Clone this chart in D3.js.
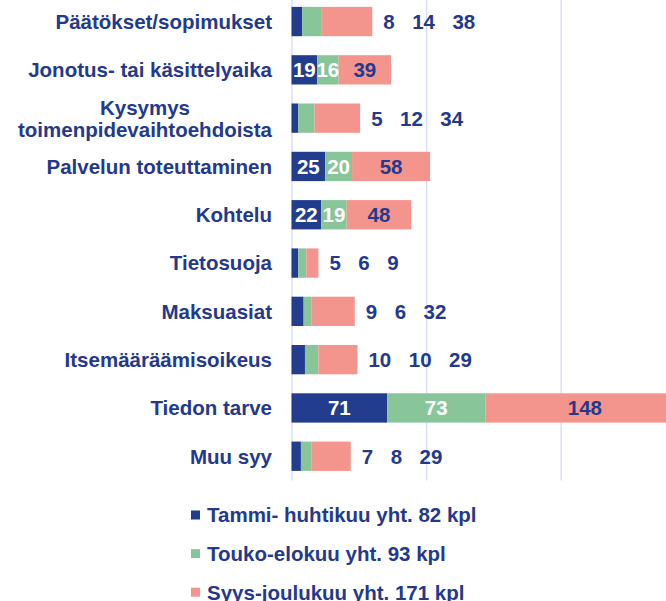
<!DOCTYPE html>
<html>
<head>
<meta charset="utf-8">
<script src="https://cdn.jsdelivr.net/npm/d3@7"></script>
<style>
  body { margin: 0; background: #fff; }
  svg { display: block; font-family: "Liberation Sans", Arial, sans-serif; font-weight: bold; }
</style>
</head>
<body>
<div class="chart"></div>
<script>
const categories = [
  ['Päätökset/sopimukset'],
  ['Jonotus- tai käsittelyaika'],
  ['Kysymys', 'toimenpidevaihtoehdoista'],
  ['Palvelun toteuttaminen'],
  ['Kohtelu'],
  ['Tietosuoja'],
  ['Maksuasiat'],
  ['Itsemääräämisoikeus'],
  ['Tiedon tarve'],
  ['Muu syy']
];
const tammiHuhti = [8, 19, 5, 25, 22, 5, 9, 10, 71, 7];
const toukoElo = [14, 16, 12, 20, 19, 6, 6, 10, 73, 8];
const syysJoulu = [38, 39, 34, 58, 48, 9, 32, 29, 148, 29];
const seriesNames = ['Tammi- huhtikuu yht. 82 kpl', 'Touko-elokuu yht. 93 kpl', 'Syys-joulukuu yht. 171 kpl'];
const gridTicks = [0, 100, 200, 300];

const WIDTH = 666;
const HEIGHT = 601;
const COLORS = ['#233d8e', '#88c69a', '#f4958d'];
const LABEL_COLORS = ['#fff', '#fff', '#24398c'];
const TEXT = '#24398c';
const FONT = '20.5px';

const rows = categories.map((lines, i) => ({
  key: lines.join(' '),
  lines,
  s0: tammiHuhti[i],
  s1: toukoElo[i],
  s2: syysJoulu[i]
}));

const x = d3.scaleLinear().domain([0, 300]).range([291.5, 695.3]);
const y = d3.scaleBand()
  .domain(rows.map(d => d.key))
  .range([-2.6, 480.4])
  .paddingInner(0.393)
  .paddingOuter(0.1965);

const svg = d3.select('.chart')
  .append('svg')
  .attr('width', WIDTH)
  .attr('height', HEIGHT);

// vertical gridlines
svg.append('g')
  .attr('transform', `translate(0,${y.range()[1]})`)
  .call(d3.axisBottom(x).tickValues(gridTicks).tickSize(-(y.range()[1] + 10)).tickFormat(''))
  .call(g => g.select('.domain').remove())
  .call(g => g.selectAll('line').attr('stroke', '#d8ddf5').attr('stroke-width', 1.4));

const stacked = d3.stack().keys(['s0', 's1', 's2'])(rows);

// bars
svg.append('g')
  .selectAll('g')
  .data(stacked)
  .join('g')
  .attr('fill', (d, i) => COLORS[i])
  .selectAll('rect')
  .data(d => d)
  .join('rect')
  .attr('x', d => x(d[0]))
  .attr('y', d => y(d.data.key))
  .attr('width', d => x(d[1]) - x(d[0]))
  .attr('height', y.bandwidth());

// category labels
const cat = svg.append('g')
  .attr('fill', TEXT)
  .attr('font-size', FONT);
rows.forEach(d => {
  const cy = y(d.key) + y.bandwidth() / 2;
  if (d.lines.length === 1) {
    cat.append('text')
      .attr('x', 272)
      .attr('y', cy)
      .attr('dy', '0.36em')
      .attr('text-anchor', 'end')
      .text(d.lines[0]);
  } else {
    const last = cat.append('text')
      .attr('x', 272)
      .attr('y', cy + 11)
      .attr('dy', '0.36em')
      .attr('text-anchor', 'end')
      .text(d.lines[1]);
    const w = last.node().getComputedTextLength();
    cat.append('text')
      .attr('x', 272 - w / 2)
      .attr('y', cy - 11)
      .attr('dy', '0.36em')
      .attr('text-anchor', 'middle')
      .text(d.lines[0]);
  }
});

// value labels: inside when all segments are wide enough, otherwise after the bar
const vals = svg.append('g').attr('font-size', FONT);
rows.forEach(d => {
  const v = [d.s0, d.s1, d.s2];
  const cy = y(d.key) + y.bandwidth() / 2;
  if (d3.min(v) >= 15) {
    let start = 0;
    v.forEach((val, i) => {
      vals.append('text')
        .attr('x', x(start + val / 2))
        .attr('y', cy)
        .attr('dy', '0.36em')
        .attr('text-anchor', 'middle')
        .attr('fill', LABEL_COLORS[i])
        .text(val);
      start += val;
    });
  } else {
    let pos = x(d3.sum(v)) + 11;
    v.forEach(val => {
      const t = vals.append('text')
        .attr('x', pos)
        .attr('y', cy)
        .attr('dy', '0.36em')
        .attr('fill', TEXT)
        .text(val);
      pos += t.node().getComputedTextLength() + 17.5;
    });
  }
});

// legend
const legend = svg.append('g')
  .attr('font-size', FONT)
  .selectAll('g')
  .data(seriesNames)
  .join('g')
  .attr('transform', (d, i) => `translate(191,${515 + i * 38.6})`);
legend.append('rect')
  .attr('y', -4.5)
  .attr('width', 9)
  .attr('height', 9)
  .attr('fill', (d, i) => COLORS[i]);
legend.append('text')
  .attr('x', 16)
  .attr('dy', '0.36em')
  .attr('fill', TEXT)
  .text(d => d);
</script>
</body>
</html>
